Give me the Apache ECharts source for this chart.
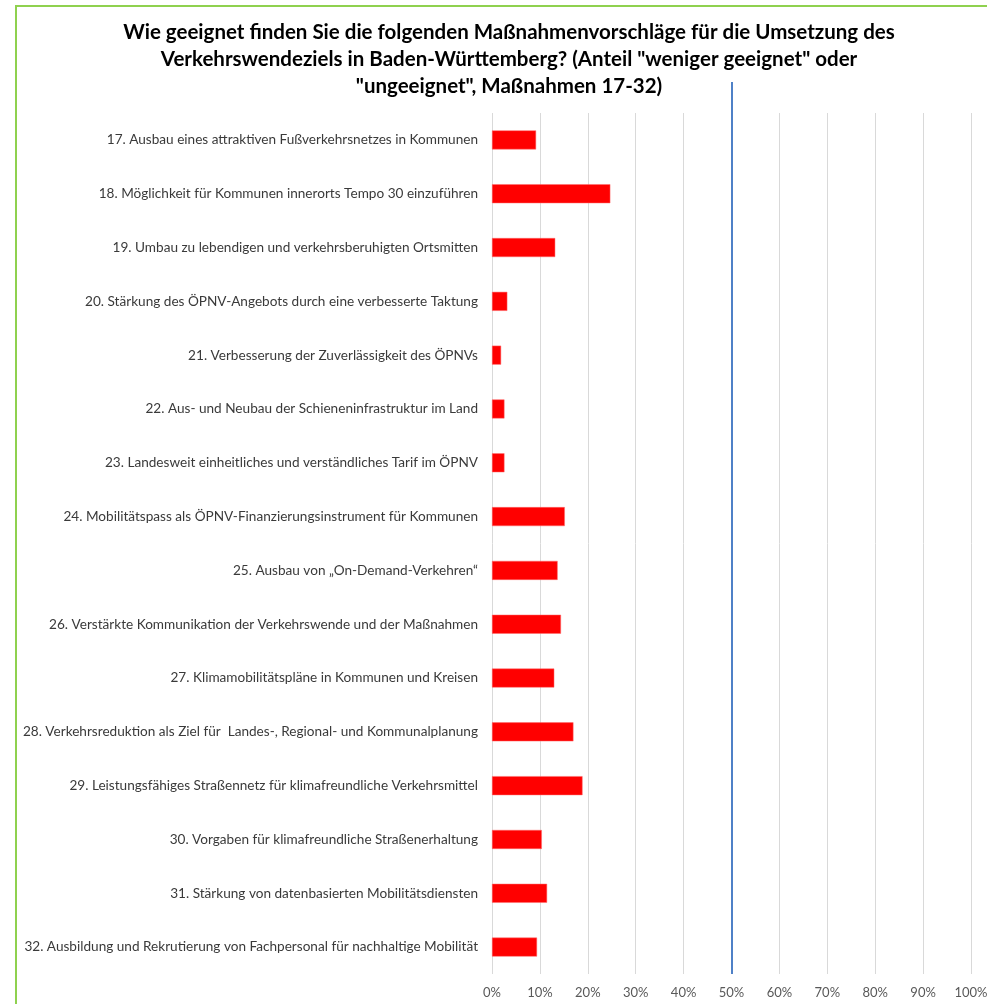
<!DOCTYPE html>
<html>
    <head>
        <meta charset="utf-8">
        <script src="https://cdn.jsdelivr.net/npm/echarts@6/dist/echarts.min.js"></script>
        <style>
            html, body {
                margin: 0;
                padding: 0;
                overflow: hidden;
                background: #fff;
            }
            #frame {
                position: absolute;
                left: 15px;
                top: 5px;
                border-left: 2px solid #8fd14f;
                border-top: 2px solid #8fd14f;
            }
            #main {
                width: 984px;
                height: 997px;
            }
        </style>
    </head>
    <body>
        <div id="frame"><div id="main"></div></div>

        <script>
            var titleLines = [
                'Wie geeignet finden Sie die folgenden Maßnahmenvorschläge für die Umsetzung des',
                'Verkehrswendeziels in Baden-Württemberg? (Anteil "weniger geeignet" oder',
                '"ungeeignet", Maßnahmen 17-32)'
            ];

            var categories = [
                '17. Ausbau eines attraktiven Fußverkehrsnetzes in Kommunen',
                '18. Möglichkeit für Kommunen innerorts Tempo 30 einzuführen',
                '19. Umbau zu lebendigen und verkehrsberuhigten Ortsmitten',
                '20. Stärkung des ÖPNV-Angebots durch eine verbesserte Taktung',
                '21. Verbesserung der Zuverlässigkeit des ÖPNVs',
                '22. Aus- und Neubau der Schieneninfrastruktur im Land',
                '23. Landesweit einheitliches und verständliches Tarif im ÖPNV',
                '24. Mobilitätspass als ÖPNV-Finanzierungsinstrument für Kommunen',
                '25. Ausbau von „On-Demand-Verkehren“',
                '26. Verstärkte Kommunikation der Verkehrswende und der Maßnahmen',
                '27. Klimamobilitätspläne in Kommunen und Kreisen',
                '28. Verkehrsreduktion als Ziel für  Landes-, Regional- und Kommunalplanung',
                '29. Leistungsfähiges Straßennetz für klimafreundliche Verkehrsmittel',
                '30. Vorgaben für klimafreundliche Straßenerhaltung',
                '31. Stärkung von datenbasierten Mobilitätsdiensten',
                '32. Ausbildung und Rekrutierung von Fachpersonal für nachhaltige Mobilität'
            ];

            // Anteil "weniger geeignet" oder "ungeeignet" in %
            var values = [9.2, 24.7, 13.2, 3.2, 1.9, 2.6, 2.6, 15.2, 13.7, 14.4, 13.0, 17.0, 18.9, 10.4, 11.5, 9.4];

            var xTicks = [0, 10, 20, 30, 40, 50, 60, 70, 80, 90, 100];
            var threshold = 50;

            var chart = echarts.init(document.getElementById('main'));

            var gridLeft = 475, gridRight = 30;

            var option = {
                animation: false,
                title: {
                    text: titleLines.join('\n'),
                    left: 'center',
                    top: 7,
                    textStyle: {
                        fontFamily: 'Lato',
                        fontWeight: 'bold',
                        fontSize: 20.5,
                        lineHeight: 27,
                        color: '#000'
                    }
                },
                grid: [{
                    left: gridLeft,
                    right: gridRight,
                    top: 106,
                    bottom: 30
                }, {
                    left: gridLeft,
                    right: gridRight,
                    top: 75,
                    bottom: 30
                }],
                xAxis: [{
                    type: 'value',
                    gridIndex: 0,
                    min: xTicks[0],
                    max: xTicks[xTicks.length - 1],
                    interval: 10,
                    axisLine: { show: false },
                    axisTick: { show: false },
                    splitLine: {
                        show: true,
                        lineStyle: { color: '#d9d9d9', width: 1 }
                    },
                    axisLabel: {
                        margin: 12,
                        formatter: '{value}%',
                        fontFamily: 'Lato',
                        fontSize: 13,
                        color: '#595959'
                    }
                }, {
                    type: 'value',
                    gridIndex: 1,
                    min: xTicks[0],
                    max: xTicks[xTicks.length - 1],
                    show: false
                }],
                yAxis: [{
                    type: 'category',
                    gridIndex: 0,
                    data: categories,
                    inverse: true,
                    axisLine: { show: false },
                    axisTick: { show: false },
                    axisLabel: {
                        margin: 14,
                        fontFamily: 'Lato',
                        fontSize: 13.6,
                        color: '#3a3a3a'
                    }
                }, {
                    type: 'value',
                    gridIndex: 1,
                    show: false
                }],
                series: [{
                    type: 'bar',
                    xAxisIndex: 0,
                    yAxisIndex: 0,
                    data: values,
                    barWidth: 19,
                    itemStyle: {
                        color: '#ff0000',
                        borderColor: '#ff6b6b',
                        borderWidth: 0.5
                    }
                }, {
                    type: 'line',
                    xAxisIndex: 1,
                    yAxisIndex: 1,
                    data: [],
                    silent: true,
                    markLine: {
                        symbol: 'none',
                        silent: true,
                        label: { show: false },
                        lineStyle: { color: '#4f81c7', width: 2, type: 'solid' },
                        data: [{ xAxis: threshold }]
                    }
                }]
            };

            chart.setOption(option);
        </script>
    </body>
</html>
